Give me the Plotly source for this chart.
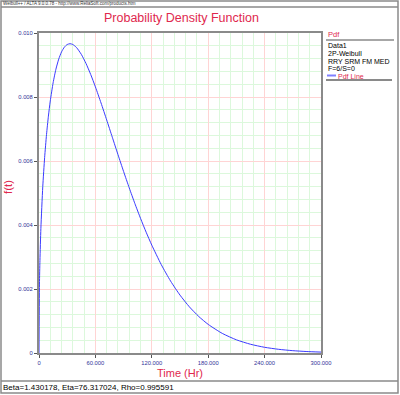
import plotly.graph_objects as go

# Data (Weibull pdf curve, Time in Hr vs f(t))
time_hr = [0, 0.5, 1, 2, 4, 6, 8, 10, 12, 15, 18, 21, 24, 27, 30, 33, 36, 40, 45, 50, 55,
           60, 66, 72, 78, 84, 90, 96, 102, 108, 114, 120, 130, 140, 150, 160, 170, 180,
           195, 210, 225, 240, 255, 270, 285, 300]
pdf_vals = [0.0, 0.002154, 0.002897, 0.003891, 0.005194, 0.006112, 0.006826, 0.007402,
            0.007877, 0.008442, 0.008869, 0.009185, 0.009411, 0.009558, 0.009640, 0.009665,
            0.009641, 0.009543, 0.009333, 0.009048, 0.008704, 0.008317, 0.007813, 0.007283,
            0.006742, 0.006201, 0.005672, 0.005160, 0.004670, 0.004208, 0.003774, 0.003370,
            0.002766, 0.002247, 0.001809, 0.001442, 0.001140, 0.000894, 0.000612, 0.000412,
            0.000273, 0.000178, 0.000115, 0.0000729, 0.0000457, 0.0000283]

x_tickvals = [0, 60, 120, 180, 240, 300]
x_ticktext = ["0", "60.000", "120.000", "180.000", "240.000", "300.000"]
y_tickvals = [0, 0.002, 0.004, 0.006, 0.008, 0.010]
y_ticktext = ["0", "0.002", "0.004", "0.006", "0.008", "0.010"]

legend_title = "Pdf"
legend_lines = ["Data1", "2P-Weibull", "RRY SRM FM MED", "F=6/S=0"]
legend_series = "Pdf Line"
status_top = "Weibull++ / ALTA 9.0.0.78 - http://www.ReliaSoft.com/products.htm"
status_bottom = "Beta=1.430178, Eta=76.317024, Rho=0.995591"

W, H = 400, 395
L, R, T, B = 39, 321, 33, 353
FONT = "Liberation Sans"
RED = "#e0284e"
NAVY = "#333399"


def px(x):
    return (x - L) / (R - L)


def py(y):
    return (B - y) / (B - T)


fig = go.Figure()
fig.add_trace(go.Scatter(x=time_hr, y=pdf_vals, mode="lines",
                         line=dict(color="#3b3bff", width=1, shape="spline", smoothing=0.6),
                         hoverinfo="x+y", showlegend=False))

axis_common = dict(showline=True, linecolor="#8a8a8a", linewidth=2, mirror=True,
                   ticks="outside", ticklen=3, tickcolor="#555555",
                   tickfont=dict(family=FONT, size=5.8, color=NAVY),
                   zeroline=False, showgrid=True, gridcolor="#ffd4d4", gridwidth=1,
                   automargin=False)

fig.update_layout(
    width=W, height=H,
    margin=dict(l=L, r=W - R, t=T, b=H - B, autoexpand=False),
    paper_bgcolor="white", plot_bgcolor="white",
    xaxis=dict(range=[0, 300], tickvals=x_tickvals, ticktext=x_ticktext,
               minor=dict(dtick=12, tick0=0, showgrid=True, gridcolor="#dcf8dc", gridwidth=1),
               **axis_common),
    yaxis=dict(range=[0, 0.010], tickvals=y_tickvals, ticktext=y_ticktext,
               minor=dict(dtick=0.0004, tick0=0, showgrid=True, gridcolor="#dcf8dc", gridwidth=1),
               **axis_common),
    showlegend=False,
)

shapes = []
# outer frame and status bars
shapes.append(dict(type="rect", xref="paper", yref="paper", x0=px(1), x1=px(398), y0=py(393), y1=py(1),
                   line=dict(color="#8a8a8a", width=1.5)))
shapes.append(dict(type="line", xref="paper", yref="paper", x0=px(1), x1=px(398), y0=py(7), y1=py(7),
                   line=dict(color="#8a8a8a", width=1.5)))
shapes.append(dict(type="line", xref="paper", yref="paper", x0=px(1), x1=px(398), y0=py(381), y1=py(381),
                   line=dict(color="#8a8a8a", width=1.5)))
# legend separators
shapes.append(dict(type="line", xref="paper", yref="paper", x0=px(326), x1=px(394), y0=py(40), y1=py(40),
                   line=dict(color="#8a8a8a", width=1.5)))
shapes.append(dict(type="line", xref="paper", yref="paper", x0=px(326), x1=px(392), y0=py(80), y1=py(80),
                   line=dict(color="#8a8a8a", width=2)))
shapes.append(dict(type="line", xref="paper", yref="paper", x0=px(327), x1=px(336), y0=py(75.5), y1=py(75.5),
                   line=dict(color="#8080ff", width=2)))
fig.update_layout(shapes=shapes)

ann = []
ann.append(dict(text="Probability Density Function", x=px(181), y=py(18), xref="paper", yref="paper",
                xanchor="center", yanchor="middle", showarrow=False,
                font=dict(family=FONT, size=12.5, color=RED)))
ann.append(dict(text="Time (Hr)", x=px(180), y=py(373), xref="paper", yref="paper",
                xanchor="center", yanchor="middle", showarrow=False,
                font=dict(family=FONT, size=11, color=RED)))
ann.append(dict(text="f(t)", x=px(8), y=py(187), xref="paper", yref="paper", textangle=-90,
                xanchor="center", yanchor="middle", showarrow=False,
                font=dict(family=FONT, size=11.5, color=RED)))
ann.append(dict(text=status_top, x=px(2), y=py(3), xref="paper", yref="paper", xanchor="left",
                yanchor="middle", showarrow=False, font=dict(family=FONT, size=4.5, color="#333333")))
ann.append(dict(text=status_bottom, x=px(2), y=py(387.5), xref="paper", yref="paper", xanchor="left",
                yanchor="middle", showarrow=False, font=dict(family=FONT, size=8, color="#000000")))
ann.append(dict(text=legend_title, x=px(327), y=py(35), xref="paper", yref="paper", xanchor="left",
                yanchor="middle", showarrow=False, font=dict(family=FONT, size=7.5, color=RED)))
for i, t in enumerate(legend_lines):
    ann.append(dict(text=t, x=px(327), y=py(45.5 + 7.8 * i), xref="paper", yref="paper", xanchor="left",
                    yanchor="middle", showarrow=False, font=dict(family=FONT, size=7.0, color="#000000")))
ann.append(dict(text=legend_series, x=px(337), y=py(76.5), xref="paper", yref="paper", xanchor="left",
                yanchor="middle", showarrow=False, font=dict(family=FONT, size=7.0, color=RED)))
for a in ann:
    a["borderpad"] = 0
fig.update_layout(annotations=ann)

fig.write_html("out.html", config={"displayModeBar": False},
               post_script="document.body.style.margin='0';")
